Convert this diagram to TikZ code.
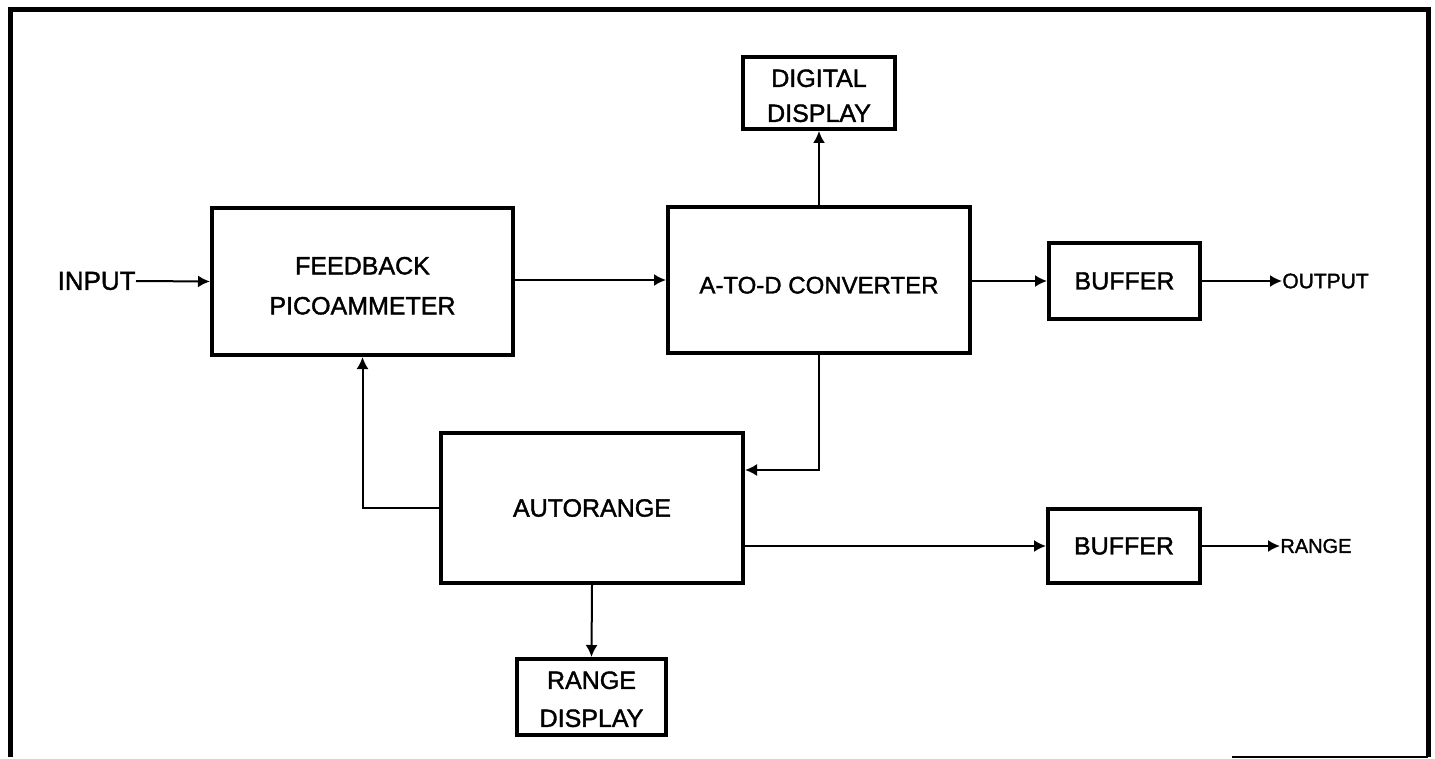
\documentclass[tikz,border=0pt]{standalone}
\usepackage{fontspec}
\setmainfont{Liberation Sans}[RawFeature={embolden=1.5}]
\usetikzlibrary{arrows.meta}
\begin{document}
\begin{tikzpicture}[x=0.5pt,y=-0.5pt,
  box/.style={draw,line width=2pt,inner sep=0pt,align=center,font=\fontsize{12.5pt}{20pt}\selectfont},
  lbl/.style={inner sep=0pt,font=\fontsize{11pt}{13pt}\selectfont},
  arr/.style={line width=1pt,-{Latex[length=6pt,width=6pt]}},
  wire/.style={line width=1pt}]
\useasboundingbox (0,0) rectangle (1435,759);
% frame
\draw[line width=2.5pt] (10,757) -- (10,10) -- (1428,10) -- (1428,757);
\draw[line width=1pt] (1232,757) -- (1428,757);
% boxes
\node[box,minimum width=150.5pt,minimum height=73.5pt] (pico) at (362.5,281.5) {\rule{0pt}{13pt}FEEDBACK\\PICOAMMETER};
\node[box,minimum width=151pt,minimum height=73pt,font=\fontsize{12pt}{20pt}\selectfont] (atod) at (819,280) {\rule{0pt}{13.6pt}A-TO-D CONVERTER};
\node[box,minimum width=76pt,minimum height=36pt,font=\fontsize{12.5pt}{17.5pt}\selectfont] (dig) at (819,93) {\rule{0pt}{11.5pt}DIGITAL\\DISPLAY};
\node[box,minimum width=75.5pt,minimum height=38pt] (buf1) at (1124.5,281) {BUFFER};
\node[box,minimum width=151pt,minimum height=75pt] (auto) at (592,508) {AUTORANGE};
\node[box,minimum width=74.5pt,minimum height=38pt,font=\fontsize{12.5pt}{19pt}\selectfont] (rdisp) at (591.5,697) {\rule{0pt}{11pt}RANGE\\DISPLAY};
\node[box,minimum width=76pt,minimum height=37pt] (buf2) at (1124,546) {BUFFER};
% labels
\node[lbl,anchor=east,font=\fontsize{13pt}{15pt}\selectfont] (in) at (136,281) {INPUT};
\node[lbl,anchor=west,font=\fontsize{10.5pt}{13pt}\selectfont] (out) at (1282,281) {OUTPUT};
\node[lbl,anchor=west,font=\fontsize{10pt}{12pt}\selectfont] (rng) at (1280,546) {RANGE};
% connectors
\draw[arr] (in.east) -- (pico.west);
\draw[arr] (pico.east |- atod.west) -- (atod.west);
\draw[arr] (atod.east |- buf1.west) -- (buf1.west);
\draw[arr] (buf1.east) -- (out.west);
\draw[arr] (atod.north) -- (dig.south);
\draw[arr] (atod.south) |- ([yshift=19pt]auto.east);
\draw[arr] (auto.west) -| (pico.south);
\draw[arr] (auto.east |- buf2.west) -- (buf2.west);
\draw[arr] (buf2.east) -- (rng.west);
\draw[arr] (auto.south) -- (rdisp.north);
\end{tikzpicture}
\end{document}
